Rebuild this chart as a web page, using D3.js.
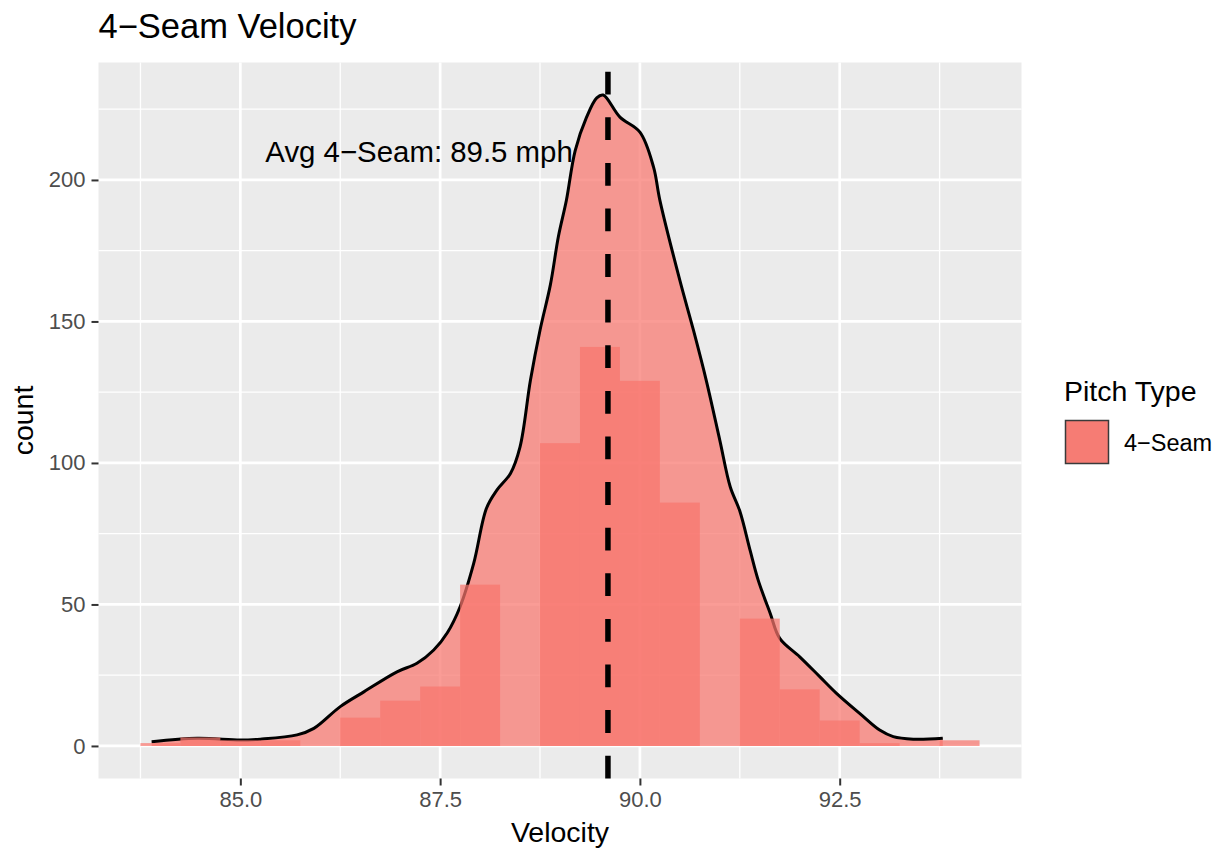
<!DOCTYPE html>
<html>
<head>
<meta charset="utf-8">
<script src="https://cdn.jsdelivr.net/npm/d3@7"></script>
<style>
  body { margin: 0; background: #fff; }
  svg { font-family: "Liberation Sans", Arial, sans-serif; }
</style>
</head>
<body>
<div id="chart"></div>
<script>
// histogram bins (left edges, width 0.5 mph) and counts
const binStarts = [83.75, 84.25, 84.75, 85.25, 85.75, 86.25, 86.75, 87.25, 87.75, 88.25, 88.75,
                   89.25, 89.75, 90.25, 90.75, 91.25, 91.75, 92.25, 92.75, 93.25, 93.75];
const binCounts = [1, 3, 2, 2, 0, 10, 16, 21, 57, 0, 107,
                   141, 129, 86, 0, 45, 20, 9, 1, 0, 2];
const binWidth = 0.5;

// density curve scaled to counts
const densityVelocity = [83.89, 84.46, 85.0, 85.25, 85.71, 85.92, 86.25, 86.55, 86.96, 87.21, 87.42,
                         87.59, 87.75, 87.92, 88.08, 88.21, 88.38, 88.5, 88.63, 88.75, 88.88, 88.98,
                         89.08, 89.19, 89.33, 89.46, 89.54, 89.75, 90.0, 90.17, 90.25, 90.5, 90.67,
                         90.83, 91.0, 91.13, 91.25, 91.38, 91.48, 91.63, 91.75, 92.0, 92.25, 92.46,
                         92.75, 93.0, 93.17, 93.42, 93.79];
const densityCount = [1.5, 2.7, 2.1, 2.4, 3.9, 6.2, 13.9, 19.2, 26.2, 29.2, 33.9,
                      40, 49.2, 64.5, 84, 90.4, 96.3, 105.7, 129.2, 146.9, 163, 180,
                      192.8, 210.4, 222, 229, 230, 222.2, 216.9, 204.6, 192.8, 164.5, 146.9,
                      129.2, 108, 91.6, 83, 69, 58.6, 46.9, 38, 31.5, 24.5, 18.6,
                      11.5, 5.6, 3.3, 2.4, 2.7];

const avgVelocity = 89.6;
const avgLabel = "Avg 4\u2212Seam: 89.5 mph";
const xTicks = [85, 87.5, 90, 92.5];
const xMinor = [83.75, 86.25, 88.75, 91.25, 93.75];
const yTicks = [0, 50, 100, 150, 200];
const yMinor = [25, 75, 125, 175, 225];
const seriesName = "4\u2212Seam";

const fillColor = "#F8766D";
const layerAlpha = 0.72;

const W = 1217, H = 848;
const panel = { left: 98.5, right: 1021.5, top: 62.5, bottom: 778.5 };

const svg = d3.select("#chart").append("svg")
    .attr("width", W)
    .attr("height", H);

const x = d3.scaleLinear().domain([83.225, 94.775]).range([panel.left, panel.right]);
const y = d3.scaleLinear().domain([-11.5, 241.5]).range([panel.bottom, panel.top]);

// panel background
svg.append("rect")
    .attr("x", panel.left).attr("y", panel.top)
    .attr("width", panel.right - panel.left)
    .attr("height", panel.bottom - panel.top)
    .attr("fill", "#EBEBEB");

// grid lines
const grid = svg.append("g");
grid.selectAll(".xminor").data(xMinor).enter().append("line")
    .attr("x1", d => x(d)).attr("x2", d => x(d))
    .attr("y1", panel.top).attr("y2", panel.bottom)
    .attr("stroke", "#fff").attr("stroke-width", 1.3);
grid.selectAll(".yminor").data(yMinor).enter().append("line")
    .attr("y1", d => y(d)).attr("y2", d => y(d))
    .attr("x1", panel.left).attr("x2", panel.right)
    .attr("stroke", "#fff").attr("stroke-width", 1.3);
grid.selectAll(".xmajor").data(xTicks).enter().append("line")
    .attr("x1", d => x(d)).attr("x2", d => x(d))
    .attr("y1", panel.top).attr("y2", panel.bottom)
    .attr("stroke", "#fff").attr("stroke-width", 2.7);
grid.selectAll(".ymajor").data(yTicks).enter().append("line")
    .attr("y1", d => y(d)).attr("y2", d => y(d))
    .attr("x1", panel.left).attr("x2", panel.right)
    .attr("stroke", "#fff").attr("stroke-width", 2.7);

// density area + outline
const densityData = densityVelocity.map((v, i) => ({ v: v, c: densityCount[i] }));

const area = d3.area()
    .x(d => x(d.v))
    .y0(y(0))
    .y1(d => y(d.c))
    .curve(d3.curveCatmullRom);

const line = d3.line()
    .x(d => x(d.v))
    .y(d => y(d.c))
    .curve(d3.curveCatmullRom);

svg.append("path")
    .datum(densityData)
    .attr("d", area)
    .attr("fill", fillColor)
    .attr("fill-opacity", layerAlpha);

svg.append("path")
    .datum(densityData)
    .attr("d", line)
    .attr("fill", "none")
    .attr("stroke", "#000")
    .attr("stroke-width", 3);

// histogram bars
const bins = binStarts.map((s, i) => ({ x0: s, x1: s + binWidth, count: binCounts[i] }));

svg.selectAll(".bar")
    .data(bins.filter(d => d.count > 0))
    .enter()
    .append("rect")
    .attr("class", "bar")
    .attr("x", d => x(d.x0))
    .attr("y", d => y(d.count))
    .attr("width", d => x(d.x1) - x(d.x0))
    .attr("height", d => y(0) - y(d.count))
    .attr("fill", fillColor)
    .attr("fill-opacity", layerAlpha);

// average line, drawn bottom-up so the dashes start at the base
svg.append("line")
    .attr("x1", x(avgVelocity)).attr("x2", x(avgVelocity))
    .attr("y1", panel.bottom).attr("y2", panel.top)
    .attr("stroke", "#000")
    .attr("stroke-width", 5.5)
    .attr("stroke-dasharray", "22.8,22.8");

svg.append("text")
    .attr("x", x(89.16))
    .attr("y", y(210))
    .attr("dy", "0.35em")
    .attr("text-anchor", "end")
    .style("font-size", "29.4px")
    .style("fill", "#000")
    .text(avgLabel);

// axes
const xAxis = svg.append("g")
    .attr("transform", `translate(0,${panel.bottom})`)
    .call(d3.axisBottom(x).tickValues(xTicks).tickFormat(d3.format(".1f"))
        .tickSize(7).tickPadding(6));
const yAxis = svg.append("g")
    .attr("transform", `translate(${panel.left},0)`)
    .call(d3.axisLeft(y).tickValues(yTicks).tickFormat(d3.format(".0f"))
        .tickSize(7).tickPadding(6));

[xAxis, yAxis].forEach(a => {
    a.select(".domain").remove();
    a.selectAll("line").attr("stroke", "#333").attr("stroke-width", 2);
    a.selectAll("text")
        .style("font-family", "Liberation Sans, Arial, sans-serif")
        .style("font-size", "22px")
        .style("fill", "#4D4D4D");
});

// titles
svg.append("text")
    .attr("x", panel.left)
    .attr("y", 38)
    .style("font-size", "34.5px")
    .style("fill", "#000")
    .text("4\u2212Seam Velocity");

svg.append("text")
    .attr("x", (panel.left + panel.right) / 2)
    .attr("y", 842)
    .attr("text-anchor", "middle")
    .style("font-size", "28.5px")
    .style("fill", "#000")
    .text("Velocity");

svg.append("text")
    .attr("transform", `translate(33,${(panel.top + panel.bottom) / 2}) rotate(-90)`)
    .attr("text-anchor", "middle")
    .style("font-size", "28.5px")
    .style("fill", "#000")
    .text("count");

// legend
const legend = svg.append("g");
legend.append("text")
    .attr("x", 1064)
    .attr("y", 401)
    .style("font-size", "28.5px")
    .style("fill", "#000")
    .text("Pitch Type");
legend.append("rect")
    .attr("x", 1065.5).attr("y", 420.5)
    .attr("width", 43).attr("height", 43)
    .attr("fill", "#F67C74")
    .attr("stroke", "#3a3a3a")
    .attr("stroke-width", 1.5);
legend.append("text")
    .attr("x", 1124)
    .attr("y", 451)
    .style("font-size", "23.5px")
    .style("fill", "#000")
    .text(seriesName);
</script>
</body>
</html>
